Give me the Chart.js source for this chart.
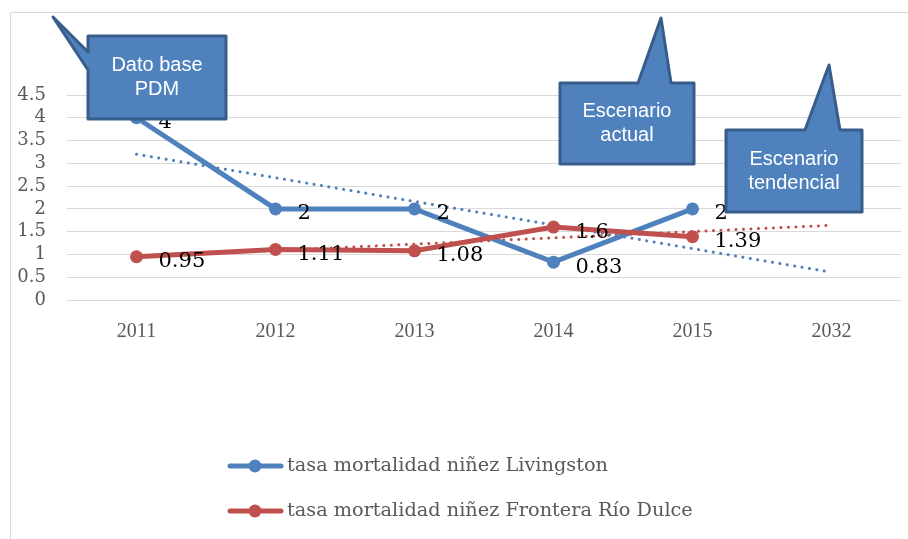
<!DOCTYPE html>
<html>
<head>
    <title>Tasa mortalidad niñez</title>
    <script src="https://cdn.jsdelivr.net/npm/chart.js"></script>
    <style>
        body { margin: 0; padding: 0; background: white; }
        #wrap { width: 908px; height: 539px; position: relative; }
    </style>
</head>
<body>
    <div id="wrap"><canvas id="chart" width="908" height="539"></canvas></div>

    <script>
        // data
        const years = ['2011', '2012', '2013', '2014', '2015', '2032'];
        const livingston = [4, 2, 2, 0.83, 2, null];
        const fronteraRioDulce = [0.95, 1.11, 1.08, 1.6, 1.39, null];
        // linear trend end points (dotted)
        const livingstonTrend = [3.2, null, null, null, null, 0.61];
        const fronteraTrend = [0.95, null, null, null, null, 1.64];
        const seriesNames = ['tasa mortalidad niñez Livingston', 'tasa mortalidad niñez Frontera Río Dulce'];

        const BLUE = '#4F81BD';
        const RED = '#C0504D';
        const GREY = '#595959';

        // callout shapes drawn on top of the chart
        const callouts = [
            { lines: ['Dato base', 'PDM'], box: [88, 36, 226, 119], side: 'left', base: [52, 70], tip: [53, 17] },
            { lines: ['Escenario', 'actual'], box: [560, 83, 694, 164], side: 'top', base: [638, 671], tip: [661, 18] },
            { lines: ['Escenario', 'tendencial'], box: [726, 130, 862, 212], side: 'top', base: [805, 840], tip: [829, 65] }
        ];

        function drawCallout(ctx, c) {
            const [x1, y1, x2, y2] = c.box;
            ctx.beginPath();
            ctx.moveTo(x1, y1);
            if (c.side === 'top') {
                ctx.lineTo(c.base[0], y1);
                ctx.lineTo(c.tip[0], c.tip[1]);
                ctx.lineTo(c.base[1], y1);
            }
            ctx.lineTo(x2, y1);
            ctx.lineTo(x2, y2);
            ctx.lineTo(x1, y2);
            if (c.side === 'left') {
                ctx.lineTo(x1, c.base[1]);
                ctx.lineTo(c.tip[0], c.tip[1]);
                ctx.lineTo(x1, c.base[0]);
            }
            ctx.closePath();
            ctx.fillStyle = BLUE;
            ctx.fill();
            ctx.lineWidth = 3;
            ctx.lineJoin = 'round';
            ctx.strokeStyle = '#385D8A';
            ctx.stroke();

            ctx.fillStyle = 'white';
            ctx.font = '20px "Liberation Sans", Arial, sans-serif';
            ctx.textAlign = 'center';
            ctx.textBaseline = 'middle';
            const cx = (x1 + x2) / 2, cy = (y1 + y2) / 2;
            const lh = 24;
            c.lines.forEach((t, i) => {
                ctx.fillText(t, cx, cy + (i - (c.lines.length - 1) / 2) * lh);
            });
        }

        const decorPlugin = {
            id: 'decor',
            beforeDraw(chart) {
                const ctx = chart.ctx;
                ctx.save();
                ctx.strokeStyle = '#D9D9D9';
                ctx.lineWidth = 1;
                ctx.beginPath();
                ctx.moveTo(10.5, chart.height);
                ctx.lineTo(10.5, 12.5);
                ctx.lineTo(chart.width, 12.5);
                ctx.stroke();
                ctx.restore();
            },
            afterDraw(chart) {
                const ctx = chart.ctx;
                ctx.save();
                // data labels
                ctx.font = '21px "DejaVu Serif", serif';
                ctx.fillStyle = 'black';
                ctx.textAlign = 'left';
                ctx.textBaseline = 'middle';
                [0, 1].forEach(di => {
                    const meta = chart.getDatasetMeta(di);
                    const vals = chart.data.datasets[di].data;
                    meta.data.forEach((pt, i) => {
                        if (vals[i] === null) return;
                        ctx.fillText(String(vals[i]), pt.x + 22, pt.y + 5);
                    });
                });

                callouts.forEach(c => drawCallout(ctx, c));

                // legend, stacked
                const items = [{ c: BLUE, y: 466 }, { c: RED, y: 511 }];
                items.forEach((it, i) => {
                    ctx.strokeStyle = it.c;
                    ctx.lineWidth = 5;
                    ctx.lineCap = 'round';
                    ctx.beginPath();
                    ctx.moveTo(230, it.y);
                    ctx.lineTo(281, it.y);
                    ctx.stroke();
                    ctx.fillStyle = it.c;
                    ctx.beginPath();
                    ctx.arc(255, it.y, 6.5, 0, Math.PI * 2);
                    ctx.fill();
                    ctx.fillStyle = GREY;
                    ctx.font = '19.3px "DejaVu Serif", serif';
                    ctx.textAlign = 'left';
                    ctx.textBaseline = 'middle';
                    ctx.fillText(seriesNames[i], 287, it.y);
                });
                ctx.restore();
            }
        };

        new Chart(document.getElementById('chart'), {
            type: 'line',
            data: {
                labels: years,
                datasets: [
                    {
                        label: seriesNames[0],
                        data: livingston,
                        borderColor: BLUE,
                        backgroundColor: BLUE,
                        borderWidth: 5,
                        pointRadius: 6.5,
                        pointBorderWidth: 0,
                        order: 2
                    },
                    {
                        label: seriesNames[1],
                        data: fronteraRioDulce,
                        borderColor: RED,
                        backgroundColor: RED,
                        borderWidth: 5,
                        pointRadius: 6.5,
                        pointBorderWidth: 0,
                        order: 1
                    },
                    {
                        label: 'tendencia Livingston',
                        data: livingstonTrend,
                        borderColor: BLUE,
                        borderWidth: 3,
                        borderDash: [0.1, 7.4],
                        borderCapStyle: 'round',
                        pointRadius: 0,
                        spanGaps: true,
                        order: 3
                    },
                    {
                        label: 'tendencia Frontera Río Dulce',
                        data: fronteraTrend,
                        borderColor: RED,
                        borderWidth: 3,
                        borderDash: [0.1, 7.4],
                        borderCapStyle: 'round',
                        pointRadius: 0,
                        spanGaps: true,
                        order: 4
                    }
                ]
            },
            options: {
                responsive: false,
                animation: false,
                layout: { padding: { left: 17, right: 7, top: 95, bottom: 179 } },
                plugins: {
                    legend: { display: false },
                    tooltip: { enabled: false }
                },
                scales: {
                    x: {
                        offset: true,
                        grid: { display: false, offset: true },
                        border: { display: false },
                        ticks: {
                            color: GREY,
                            font: { family: '"Liberation Serif", serif', size: 20 },
                            padding: 12
                        },
                        afterFit: s => { s.height = 60; }
                    },
                    y: {
                        min: 0,
                        max: 4.5,
                        grid: { color: '#D9D9D9', drawTicks: false },
                        border: { display: false },
                        ticks: {
                            stepSize: 0.5,
                            autoSkip: false,
                            color: GREY,
                            font: { family: '"DejaVu Serif", serif', size: 18 },
                            padding: 21,
                            callback: v => String(v)
                        },
                        afterFit: s => { s.width = 50; }
                    }
                }
            },
            plugins: [decorPlugin]
        });
    </script>
</body>
</html>
